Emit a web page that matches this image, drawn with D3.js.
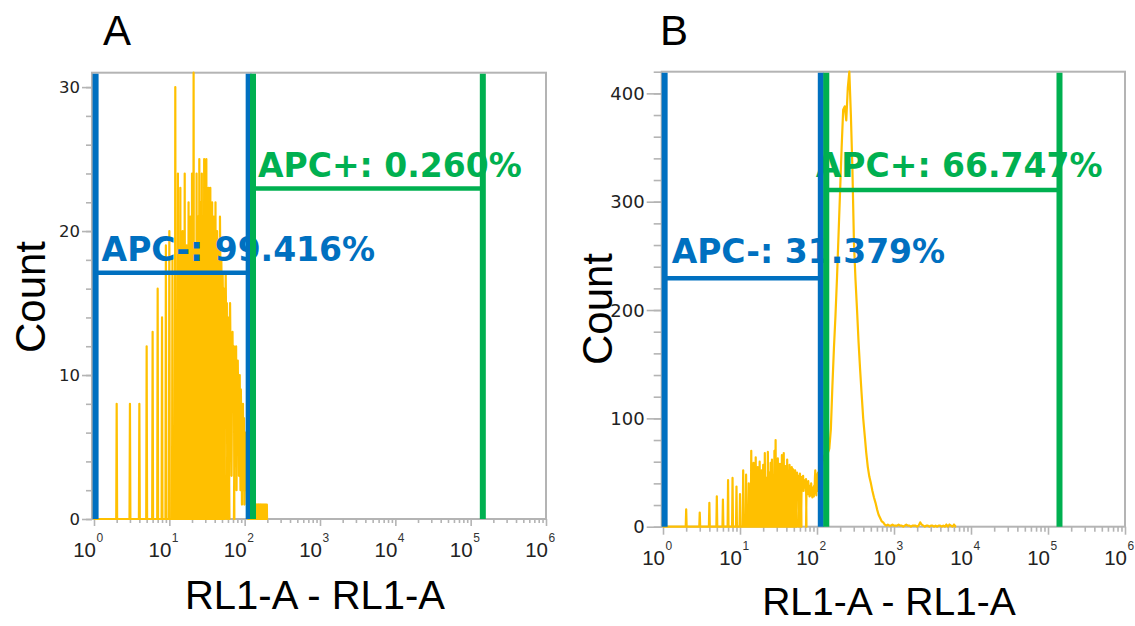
<!DOCTYPE html>
<html><head><meta charset="utf-8">
<script src="https://cdn.jsdelivr.net/npm/d3@7"></script>
<style>body{margin:0;background:#fff}svg{display:block}</style>
</head><body>
<svg id="c" width="1135" height="626"></svg>
<script>
// ---------- DATA ----------
// Panel A: event counts per integer RL1-A channel (1..200)
const countsA = [
  2, 8, 8, 8, 12, 13, 16, 14, 19, 20,
  18, 30, 24, 23, 20, 24, 19, 22, 21, 24,
  31, 19, 24, 21, 25, 22, 24, 20, 25, 18,
  25, 21, 23, 19, 23, 17, 22, 20, 21, 18,
  22, 17, 20, 18, 19, 16, 21, 15, 18, 14,
  17, 13, 16, 15, 13, 17, 12, 15, 11, 14,
  13, 4, 12, 15, 11, 9, 3, 10, 13, 8,
  11, 12, 5, 11, 8, 10, 12, 2, 10, 9,
  11, 8, 10, 3, 9, 10, 6, 2, 9, 7,
  8, 1, 7, 6, 8, 2, 6, 7, 1, 6,
  5, 3, 6, 4, 2, 3, 1, 2, 1, 2,
  1, 0, 1, 1, 0, 1, 0, 1, 0, 1,
  0, 1, 0, 0, 1, 0, 1, 0, 0, 1,
  0, 0, 1, 0, 0, 1, 0, 0, 1, 0,
  1, 0, 0, 1, 0, 1, 0, 0, 1, 0,
  0, 1, 0, 1, 0, 0, 1, 0, 0, 1,
  0, 0, 1, 0, 1, 0, 0, 0, 1, 0,
  0, 1, 0, 0, 0, 1, 0, 0, 0, 1,
  0, 0, 1, 0, 0, 0, 0, 1, 0, 0,
  0, 1, 0, 0, 0, 0, 1, 0, 0, 0
];
// Panel B: event counts per integer RL1-A channel (1..119)
const countsB = [
  9, 16, 13, 22, 28, 25, 43, 45, 37, 30,
  52, 48, 40, 70, 59, 64, 55, 60, 52, 57,
  68, 45, 69, 50, 59, 62, 48, 70, 80, 55,
  63, 50, 58, 47, 66, 52, 68, 44, 56, 49,
  62, 52, 45, 57, 50, 42, 55, 48, 53, 39,
  48, 52, 40, 46, 50, 38, 47, 44, 36, 49,
  42, 46, 35, 44, 40, 47, 33, 43, 38, 41,
  36, 44, 32, 40, 37, 30, 42, 35, 38, 28,
  36, 33, 29, 40, 31, 34, 27, 36, 30, 33,
  28, 38, 31, 45, 52, 34, 40, 29, 48, 36,
  42, 33, 50, 38, 45, 40, 52, 44, 48, 55,
  50, 58, 53, 60, 56, 62, 58, 65, 61
];
// Panel B: counts above channel 120, one value per 0.02 decade starting at 10^2.08
const peakBStartLog = 2.08;
const peakBStepLog = 0.02;
const peakB = [
  62, 66, 70, 68, 72, 90, 130, 165, 195, 230,
  270, 310, 350, 385, 388, 375, 405, 420, 380, 330,
  262, 228, 200, 170, 145, 122, 100, 84, 68, 55,
  46, 40, 33, 27, 22, 16, 11, 8, 5, 4,
  2, 1, 2, 1, 1, 2, 1, 1, 1, 2,
  1, 1, 0, 1, 2, 1, 1, 0, 1, 1,
  1, 0, 1, 4, 2, 1, 0, 1, 1, 0,
  1, 1, 0, 1, 0, 1, 1, 0, 1, 0,
  2, 0, 2, 1, 0, 2, 0
];
// axis ticks
const yTicksA = [0, 10, 20, 30];
const yTicksB = [0, 100, 200, 300, 400];
const xDecades = [0, 1, 2, 3, 4, 5, 6];
const panelLetters = ["A", "B"];
const xTitle = "RL1-A - RL1-A";
const yTitle = "Count";
// gates: [low, high] in RL1-A units, level in counts
const gateNames = ["APC-", "APC+"];
const gatePctA = ["99.416%", "0.260%"];
const gatePctB = ["31.379%", "66.747%"];
const gateRangeA = [[1.05, 113], [129, 145000]];
const gateRangeB = [[1.05, 112], [132, 141000]];
const gateLevelA = [17.1, 22.95];
const gateLevelB = [229.3, 310.8];

// ---------- STYLE / LAYOUT ----------
const gateColors = ["#0070C0", "#00B050"];
const histColor = "#FFC000";
const frameColor = "#B4B4B4";
const binsPerDecade = 1024 / 6;

const layouts = [
  { letterX: 103, letterY: 45, xr: [94, 546], yr: [519, 72.7], yMax: 31, frameLeft: 92,
    yTicks: yTicksA, yMinor: 2, yMajLen: 10, yMinLen: 6, xMajLen: 7, xMinLen: 4, yFont: 16.5,
    titleX: 315, titleY: 609, titleFont: 40, countX: 45, countY: 297,
    labDx: [6, 5], labDy: [-12, -12],
    counts: countsA, peak: null, pct: gatePctA, ranges: gateRangeA, levels: gateLevelA },
  { letterX: 660, letterY: 45, xr: [663, 1125], yr: [526.7, 71.7], yMax: 420, frameLeft: 661.7,
    yTicks: yTicksB, yMinor: 20, yMajLen: 15, yMinLen: 8, xMajLen: 8, xMinLen: 5, yFont: 18,
    titleX: 889, titleY: 615, titleFont: 39, countX: 612, countY: 309,
    labDx: [7, -10.5], labDy: [-15, -13],
    counts: countsB, peak: peakB, pct: gatePctB, ranges: gateRangeB, levels: gateLevelB }
];

const svg = d3.select("#c");

function histPoints(counts, peak) {
  const pts = [[0, 0]];
  let prevL = null;
  counts.forEach((c, i) => {
    const L = Math.log10(i + 1);
    if (prevL !== null) {
      const bp = Math.floor(prevL * binsPerDecade), b = Math.floor(L * binsPerDecade);
      if (b - bp >= 2) {
        pts.push([prevL + 1 / binsPerDecade, 0]);
        pts.push([L - 1 / binsPerDecade, 0]);
      }
    }
    pts.push([L, c]);
    prevL = L;
  });
  if (peak) {
    peak.forEach((v, k) => pts.push([peakBStartLog + k * peakBStepLog, v]));
  }
  pts.push([pts[pts.length - 1][0] + 1 / binsPerDecade, 0]);
  return pts;
}

layouts.forEach((P, pi) => {
  const g = svg.append("g");
  const x = d3.scaleLog().domain([1, 1e6]).range(P.xr);
  const y = d3.scaleLinear().domain([0, P.yMax]).range(P.yr);
  const x0 = P.frameLeft, x1 = P.xr[1], yb = P.yr[0], yt = P.yr[1];

  // frame
  g.append("rect").attr("x", x0).attr("y", yt).attr("width", x1 - x0).attr("height", yb - yt)
    .attr("fill", "none").attr("stroke", frameColor).attr("stroke-width", 2);

  // y axis
  const yMinorVals = d3.range(0, P.yMax + 0.001, P.yMinor);
  const yAxMinor = d3.axisLeft(y).tickValues(yMinorVals).tickSize(P.yMinLen).tickFormat("");
  const yAxMajor = d3.axisLeft(y).tickValues(P.yTicks).tickSize(P.yMajLen).tickFormat("");
  [yAxMinor, yAxMajor].forEach(ax => {
    const a = g.append("g").attr("transform", `translate(${x0},0)`).call(ax);
    a.select(".domain").remove();
    a.selectAll("line").attr("stroke", frameColor).attr("stroke-width", 1.6);
  });
  g.selectAll(".ylab").data(P.yTicks).enter().append("text")
    .attr("x", x0 - P.yMajLen - 2).attr("y", d => y(d)).attr("dy", "0.36em")
    .attr("text-anchor", "end").attr("font-family", "DejaVu Sans").attr("font-size", P.yFont)
    .attr("fill", "#222").text(d => d);

  // x axis
  const minorVals = [];
  xDecades.slice(0, -1).forEach(d => { for (let m = 2; m <= 9; m++) minorVals.push(m * Math.pow(10, d)); });
  const xAxMinor = d3.axisBottom(x).tickValues(minorVals).tickSize(P.xMinLen).tickFormat("");
  const xAxMajor = d3.axisBottom(x).tickValues(xDecades.map(d => Math.pow(10, d))).tickSize(P.xMajLen).tickFormat("");
  [xAxMinor, xAxMajor].forEach(ax => {
    const a = g.append("g").attr("transform", `translate(0,${yb})`).call(ax);
    a.select(".domain").remove();
    a.selectAll("line").attr("stroke", frameColor).attr("stroke-width", 1.6);
  });
  const xl = g.selectAll(".xlab").data(xDecades).enter().append("g");
  xl.append("text").attr("x", d => x(Math.pow(10, d)) + 2).attr("y", yb + 38)
    .attr("text-anchor", "end").attr("font-family", "Liberation Sans, Arial").attr("font-size", 20.5)
    .attr("fill", "#222").text("10");
  xl.append("text").attr("x", d => x(Math.pow(10, d)) + 2.5).attr("y", yb + 23)
    .attr("font-family", "Liberation Sans, Arial").attr("font-size", 12)
    .attr("fill", "#333").text(d => d);

  // histogram
  const pts = histPoints(P.counts, P.peak);
  const line = d3.line().x(d => x(Math.pow(10, d[0]))).y(d => y(Math.min(d[1], P.yMax)));
  g.append("path").attr("d", line(pts)).attr("fill", "none").attr("stroke", histColor)
    .attr("stroke-width", 2.2).attr("stroke-linejoin", "round");

  // gate labels
  gateNames.forEach((nm, gi) => {
    const [lo] = P.ranges[gi];
    g.append("text").attr("x", x(lo) + P.labDx[gi]).attr("y", y(P.levels[gi]) + P.labDy[gi])
      .attr("font-family", "DejaVu Sans").attr("font-weight", "bold").attr("font-size", 33)
      .attr("fill", gateColors[gi]).text(`${nm}: ${P.pct[gi]}`);
  });
  // gate lines
  gateNames.forEach((nm, gi) => {
    const [lo, hi] = P.ranges[gi];
    const col = gateColors[gi];
    [lo, hi].forEach(v => g.append("line").attr("x1", x(v)).attr("x2", x(v)).attr("y1", yt + 1).attr("y2", yb)
      .attr("stroke", col).attr("stroke-width", 6));
    g.append("line").attr("x1", x(lo)).attr("x2", x(hi)).attr("y1", y(P.levels[gi])).attr("y2", y(P.levels[gi]))
      .attr("stroke", col).attr("stroke-width", 4.5);
  });

  // titles
  g.append("text").attr("x", P.letterX).attr("y", P.letterY).attr("font-family", "Liberation Sans, Arial")
    .attr("font-size", 42).attr("fill", "#000").text(panelLetters[pi]);
  g.append("text").attr("x", P.titleX).attr("y", P.titleY).attr("text-anchor", "middle")
    .attr("font-family", "Liberation Sans, Arial").attr("font-size", P.titleFont).attr("fill", "#000").text(xTitle);
  g.append("text").attr("transform", `translate(${P.countX},${P.countY}) rotate(-90)`).attr("text-anchor", "middle")
    .attr("font-family", "Liberation Sans, Arial").attr("font-size", 42).attr("fill", "#000").text(yTitle);
});
</script>
</body></html>
